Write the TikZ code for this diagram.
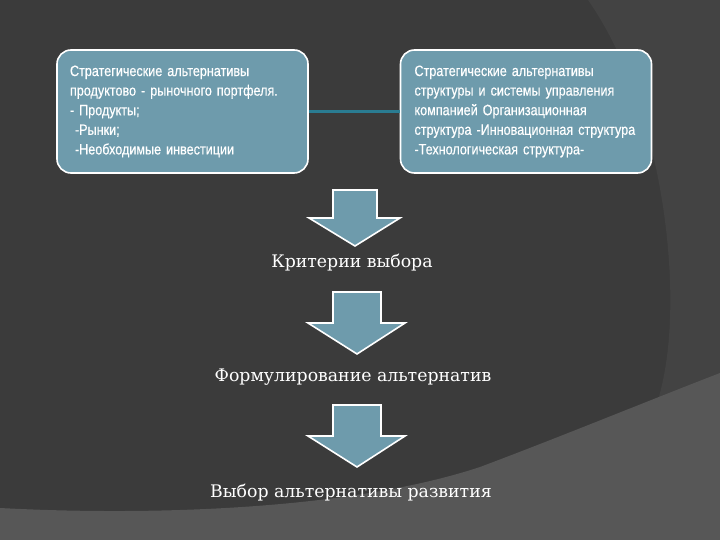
\documentclass[tikz,border=0pt]{standalone}
\usepackage{fontspec}
\usepackage{xcolor}
\usetikzlibrary{positioning,calc}
\newfontfamily\boxfont[FakeStretch=0.84,FakeBold=0.4]{Liberation Sans}
\newfontfamily\labelfont{DejaVu Serif}
\definecolor{bgdark}{HTML}{3B3B3B}
\definecolor{bgband}{HTML}{434343}
\definecolor{bglight}{HTML}{575757}
\definecolor{boxblue}{HTML}{6E9BAC}
\definecolor{linkteal}{HTML}{2A7C92}

\begin{document}
\begin{tikzpicture}[x=1pt,y=-1pt]
  \tikzstyle{altbox}=[draw=white,line width=1.6pt,rounded corners=14pt,fill=boxblue,text=white,align=left,
    minimum width=251pt,minimum height=123pt,text width=225pt,inner xsep=13pt,
    font=\boxfont\fontsize{15pt}{19.6pt}\selectfont]
  \tikzstyle{steplabel}=[text=white,inner sep=0pt,font=\labelfont\fontsize{17.3pt}{20pt}\selectfont]
  \tikzstyle{blockarrow}=[draw=white,line width=1.6pt,fill=boxblue,line join=miter]
  % background
  \fill[bgdark] (0,0) rectangle (720,540);
  \fill[bgband] (588,0) .. controls (630,60) and (665,160) .. (670,280)
    .. controls (672,340) and (665,380) .. (655,410) -- (720,540) -- (720,0) -- cycle;
  \fill[bglight] (0,508) .. controls (150,516) and (350,510) .. (480,467)
    .. controls (560,437) and (650,400) .. (720,373) -- (720,540) -- (0,540) -- cycle;
  \useasboundingbox (0,0) rectangle (720,540);
  % the two alternative boxes
  \node[altbox] (product) at (182.5,111.5) {Стратегические альтернативы\\
    продуктово - рыночного портфеля.\\
    - Продукты;\\
    \ -Рынки;\\
    \ -Необходимые инвестиции};
  \node[altbox,inner xsep=14pt,text width=223pt] (structure) at (526,111.5) {Стратегические альтернативы\\
    структуры и системы управления\\
    компанией Организационная\\
    структура -Инновационная структура\\
    -Технологическая структура-};
  \draw[draw=linkteal,line width=2.2pt] (product.east) -- (structure.west);
  % steps
  \node[steplabel] (criteria) at (352,263) {Критерии выбора};
  \node[steplabel] (formulate) at (353,377) {Формулирование альтернатив};
  \node[steplabel] (choice) at (351,493) {Выбор альтернативы развития};
  % block arrows
  \coordinate (a1) at (355,190);
  \coordinate (a2) at (357,292);
  \coordinate (a3) at (357,405);
  \draw[blockarrow] ($(a1)+(-22,0)$) -- ($(a1)+(22,0)$) -- ($(a1)+(22,28)$) -- ($(a1)+(45,28)$)
    -- ($(a1)+(0,56)$) -- ($(a1)+(-46,28)$) -- ($(a1)+(-22,28)$) -- cycle;
  \foreach \a in {a2,a3}
    \draw[blockarrow] ($(\a)+(-24,0)$) -- ($(\a)+(24,0)$) -- ($(\a)+(24,31)$) -- ($(\a)+(48,31)$)
      -- ($(\a)+(0,62)$) -- ($(\a)+(-49,31)$) -- ($(\a)+(-24,31)$) -- cycle;
\end{tikzpicture}
\end{document}
